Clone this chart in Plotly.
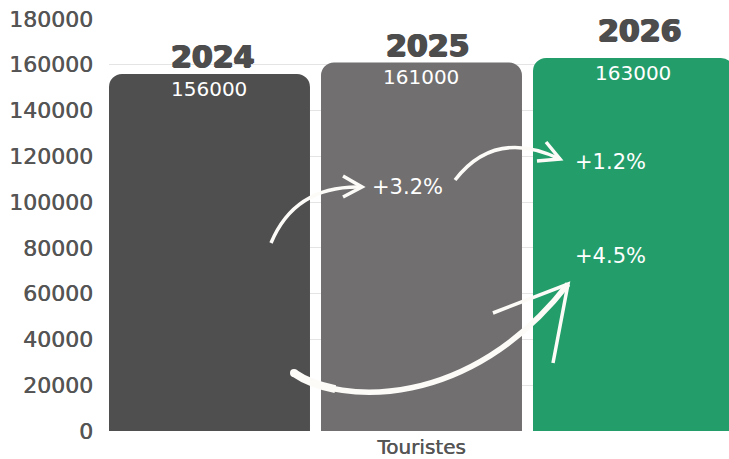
import plotly.graph_objects as go

category = ["Touristes"]
years = ["2024", "2025", "2026"]
values = [156000, 161000, 163000]
colors = ["#4f4f4f", "#716f70", "#239e6b"]
year_shift = [-2, -3, 8]
year_xshift = [4, 7, 7]
growth_labels = ["+3.2%", "+1.2%", "+4.5%"]
y_ticks = [0, 20000, 40000, 60000, 80000, 100000, 120000, 140000, 160000, 180000]

FONT = "DejaVu Sans"
GAP = 0.052               # bargroupgap
X0 = -0.5 + GAP / 6       # left edge of first bar
UNIT_PX = 636.0           # pixels per category unit
PLOT_L, PLOT_T, PLOT_W, PLOT_H = 109, 19, 620, 412
X1 = X0 + PLOT_W / UNIT_PX
YMAX = 180000


def ref(px, py):
    """position in the reference picture -> data coordinates (for decorations)"""
    return X0 + (px - PLOT_L) / UNIT_PX, (PLOT_T + PLOT_H - py) * YMAX / PLOT_H


def pt(p):
    x, y = ref(*p)
    return f"{x:.4f},{y:.0f}"


def lerp(a, b, t):
    return (a[0] + (b[0] - a[0]) * t, a[1] + (b[1] - a[1]) * t)


def split_cubic(p0, p1, p2, p3, t):
    a, b, c = lerp(p0, p1, t), lerp(p1, p2, t), lerp(p2, p3, t)
    d, e = lerp(a, b, t), lerp(b, c, t)
    f = lerp(d, e, t)
    return (p0, a, d, f), (f, e, c, p3)


fig = go.Figure()
for i, (yr, v, c) in enumerate(zip(years, values, colors)):
    fig.add_trace(go.Bar(
        x=category, y=[v], name=yr, marker=dict(color=c, line=dict(width=0)),
        offsetgroup=str(i), hoverinfo="skip",
    ))

centers = [-1/3, 0, 1/3]
DARK = "#4d4d4d"
for cx, yr, v, ys, xs in zip(centers, years, values, year_shift, year_xshift):
    fig.add_annotation(x=cx, y=v, xref="x", yref="y", text=yr, showarrow=False,
                       yanchor="bottom", yshift=ys, xshift=xs,
                       font=dict(family=FONT, size=30, color=DARK, weight="bold",
                                 shadow=f"0.9px 0 0 {DARK}, -0.9px 0 0 {DARK}, 0 0.6px 0 {DARK}"))
    fig.add_annotation(x=cx, y=v, xref="x", yref="y", text=str(v), showarrow=False,
                       yanchor="top", yshift=-1,
                       font=dict(family=FONT, size=20, color="white"))

growth_px = [(407, 187), (610, 162), (610, 256)]
for txt, (gx, gy) in zip(growth_labels, growth_px):
    x, y = ref(gx, gy)
    fig.add_annotation(x=x, y=y, xref="x", yref="y", text=txt, showarrow=False,
                       font=dict(family=FONT, size=21, color="white"))

# hand-drawn style arrows (decorations)
W = "#fdfbf8"
long_curve = ((294, 373), (340, 405), (470, 410), (568, 284))
head_part, _ = split_cubic(*long_curve, 0.22)
arrows = [
    (f"M {pt((271,243))} Q {pt((295,185))} {pt((362,187))}", 3.5),
    (f"M {pt((343,176))} L {pt((362,187))} L {pt((343,197))}", 3.5),
    (f"M {pt((455,180))} Q {pt((495,128))} {pt((560,159))}", 3.5),
    (f"M {pt((546,142))} L {pt((560,159))} L {pt((537,161))}", 3.5),
    ("M " + pt(long_curve[0]) + " C " + " ".join(pt(p) for p in long_curve[1:]), 5.5),
    ("M " + pt(head_part[0]) + " C " + " ".join(pt(p) for p in head_part[1:]), 8),
    (f"M {pt((493,313))} L {pt((568,284))} L {pt((553,363))}", 3.5),
]
for p, w in arrows:
    fig.add_shape(type="path", path=p, xref="x", yref="y",
                  line=dict(color=W, width=w), layer="above")
# round cap at the start of the long arrow
cx0, cy0 = ref(290, 369)
cx1, cy1 = ref(298, 377)
fig.add_shape(type="circle", x0=cx0, y0=cy0, x1=cx1, y1=cy1, xref="x", yref="y",
              fillcolor=W, line=dict(width=0), layer="above")

fig.update_layout(
    width=729, height=459,
    margin=dict(l=PLOT_L, r=729 - PLOT_L - PLOT_W, t=PLOT_T, b=459 - PLOT_T - PLOT_H),
    paper_bgcolor="white", plot_bgcolor="white",
    barmode="group", bargap=0, bargroupgap=GAP,
    barcornerradius=13,
    showlegend=False,
    font=dict(family=FONT, color="#555555"),
)
fig.update_xaxes(type="category", range=[X0, X1], showgrid=False, zeroline=False,
                 showline=False, ticks="", ticklabelstandoff=2, automargin=False,
                 tickfont=dict(family=FONT, size=20, color="#555555",
                               shadow="0.4px 0 0 #555555"))
fig.update_yaxes(range=[0, YMAX], tickvals=y_ticks, ticktext=[str(t) for t in y_ticks],
                 showgrid=True, gridcolor="#e4e4e4", gridwidth=1, zeroline=False,
                 showline=False, ticks="", ticklabelstandoff=15, automargin=False,
                 tickfont=dict(family=FONT, size=22, color="#555555",
                               shadow="0.4px 0 0 #555555"))

fig.write_html("out.html", config={"displayModeBar": False},
               post_script="document.body.style.margin='0';document.body.style.overflow='hidden';")
